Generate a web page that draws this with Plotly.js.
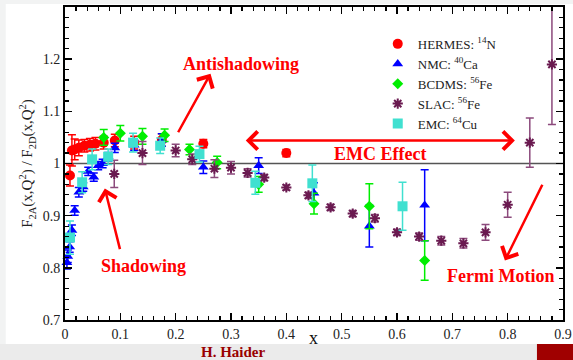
<!DOCTYPE html>
<html>
<head>
<meta charset="utf-8">
<script src="https://cdn.plot.ly/plotly-3.0.1.min.js"></script>
<style>
  html, body { margin: 0; padding: 0; background: #ffffff; }
  #chart { width: 573px; height: 360px; }
</style>
</head>
<body>
<div id="chart"></div>
<script>
// HERMES 14N / D
const hermesX = [0.009, 0.0125, 0.0175, 0.025, 0.035, 0.045, 0.055, 0.07, 0.09, 0.125, 0.175, 0.25, 0.40];
const hermesY = [0.977, 1.025, 1.027, 1.030, 1.034, 1.036, 1.038, 1.040, 1.044, 1.040, 1.045, 1.038, 1.020];
const hermesErr = [0.020, 0.030, 0.020, 0.015, 0.012, 0.012, 0.012, 0.012, 0.012, 0.012, 0.012, 0.008, 0.007];

// NMC 40Ca / D
const nmcX = [0.0035, 0.005, 0.0085, 0.0125, 0.0175, 0.025, 0.033, 0.042, 0.052, 0.06, 0.068, 0.078, 0.09, 0.125, 0.175, 0.25, 0.35, 0.45, 0.55, 0.65];
const nmcY = [0.810, 0.822, 0.840, 0.872, 0.910, 0.945, 0.955, 0.985, 0.974, 0.996, 1.000, 1.013, 1.030, 1.035, 1.045, 0.993, 0.996, 0.943, 0.880, 0.920];
const nmcErr = [0.012, 0.012, 0.010, 0.010, 0.009, 0.009, 0.008, 0.008, 0.008, 0.008, 0.008, 0.008, 0.009, 0.010, 0.012, 0.012, 0.015, 0.020, 0.040, 0.068];

// BCDMS 56Fe / D
const bcdmsX = [0.07, 0.10, 0.14, 0.18, 0.225, 0.275, 0.35, 0.45, 0.55, 0.65];
const bcdmsY = [1.050, 1.058, 1.052, 1.054, 1.027, 1.002, 0.960, 0.923, 0.918, 0.814];
const bcdmsErr = [0.015, 0.015, 0.015, 0.012, 0.010, 0.012, 0.015, 0.020, 0.043, 0.038];

// SLAC 56Fe / D
const slacX = [0.089, 0.14, 0.20, 0.23, 0.27, 0.30, 0.33, 0.36, 0.40, 0.44, 0.48, 0.52, 0.56, 0.60, 0.64, 0.68, 0.72, 0.76, 0.80, 0.84, 0.88];
const slacY = [0.980, 1.020, 1.025, 1.008, 0.990, 0.992, 0.982, 0.973, 0.954, 0.939, 0.916, 0.904, 0.895, 0.868, 0.860, 0.852, 0.847, 0.868, 0.921, 1.040, 1.190];
const slacErr = [0.026, 0.022, 0.012, 0.010, 0.017, 0.012, 0.008, 0.006, 0.005, 0.006, 0.006, 0.006, 0.007, 0.006, 0.007, 0.008, 0.009, 0.015, 0.024, 0.047, 0.115];

// EMC 64Cu / D
const emcX = [0.009, 0.031, 0.049, 0.078, 0.123, 0.172, 0.243, 0.344, 0.447, 0.61];
const emcY = [0.858, 0.964, 1.008, 1.013, 1.040, 1.034, 1.018, 0.963, 0.962, 0.918];
const emcErr = [0.032, 0.020, 0.020, 0.015, 0.018, 0.015, 0.015, 0.022, 0.035, 0.046];

// Axis ticks
const xTickVals = [0, 0.1, 0.2, 0.3, 0.4, 0.5, 0.6, 0.7, 0.8, 0.9];
const xTickText = ['0', '0.1', '0.2', '0.3', '0.4', '0.5', '0.6', '0.7', '0.8', '0.9'];
const yTickVals = [0.7, 0.8, 0.9, 1.0, 1.1, 1.2];
const yTickText = ['0.7', '0.8', '0.9', '1', '1.1', '1.2'];

const serif = 'Liberation Serif, Times New Roman, serif';

function series(name, xs, ys, errs, color, errColor, marker, clip) {
  return {
    type: 'scatter', mode: 'markers', name: name,
    x: xs, y: ys,
    cliponaxis: clip,
    error_y: { type: 'data', array: errs, visible: true, color: errColor, thickness: 1.5, width: 4 },
    marker: Object.assign({ color: color }, marker)
  };
}

const traces = [
  series('HERMES: <sup>14</sup>N', hermesX, hermesY, hermesErr, '#ff0000', '#ff0000',
         { symbol: 'circle', size: 10 }, false),
  series('NMC: <sup>40</sup>Ca', nmcX, nmcY, nmcErr, '#0000ff', '#0000ff',
         { symbol: 'triangle-up', size: 9.5 }, false),
  series('BCDMS: <sup>56</sup>Fe', bcdmsX, bcdmsY, bcdmsErr, '#00ee00', '#00ee00',
         { symbol: 'diamond', size: 8.5 }, false),
  series('SLAC: <sup>56</sup>Fe', slacX, slacY, slacErr, '#6a1a50', '#8c4a7c',
         { symbol: 'asterisk-open', size: 8.5, line: { color: '#6a1a50', width: 2 } }, true),
  series('EMC: <sup>64</sup>Cu', emcX, emcY, emcErr, '#40e0d0', '#40e0d0',
         { symbol: 'square', size: 10 }, false)
];

const red = '#ff0000';
function label(text, x, y) {
  return { text: text, x: x, y: y, xref: 'x', yref: 'y', showarrow: false,
           font: { family: serif, size: 18, color: red, weight: 'bold' } };
}
function arrow(x0, y0, x1, y1, both) {
  return { text: '', x: x1, y: y1, ax: x0, ay: y0, xref: 'x', yref: 'y', axref: 'x', ayref: 'y',
           showarrow: true, arrowcolor: red, arrowwidth: 2.5, arrowhead: 4, arrowsize: 1.4,
           startarrowhead: 4, startarrowsize: 1.4, arrowside: both ? 'end+start' : 'end',
           standoff: 0, startstandoff: 0 };
}

const annotations = [
  label('Antishadowing', 0.318, 1.19),
  arrow(0.203, 1.057, 0.263, 1.172, false),
  label('Shadowing', 0.141, 0.803),
  arrow(0.10, 0.833, 0.072, 0.952, false),
  label('EMC Effect', 0.570, 1.018),
  arrow(0.324, 1.044, 0.813, 1.044, true),
  label('Fermi Motion', 0.787, 0.785),
  arrow(0.864, 0.962, 0.795, 0.814, false),
  // x axis title
  { text: 'x', xref: 'paper', yref: 'paper', x: 0.499, y: -0.058, yanchor: 'middle', showarrow: false,
    font: { family: serif, size: 18, color: '#111111' } },
  { text: 'H. Haider', xref: 'paper', yref: 'paper', x: 0.339, y: -0.102, yanchor: 'middle', showarrow: false,
    font: { family: serif, size: 15, color: '#990000', weight: 'bold' } }
];

const shapes = [
  // unit line
  { type: 'line', xref: 'paper', yref: 'y', x0: 0, x1: 1, y0: 1, y1: 1,
    line: { color: '#555555', width: 1.5 }, layer: 'below' },
  // slide frame: left margin, top strip, footer band, footer block
  { type: 'rect', xref: 'paper', yref: 'paper', x0: -0.135, x1: -0.119, y0: -0.13, y1: 1.03,
    fillcolor: '#f2f3f3', line: { width: 0 }, layer: 'below' },
  { type: 'rect', xref: 'paper', yref: 'paper', x0: -0.135, x1: 1.03, y0: 1.0096, y1: 1.03,
    fillcolor: '#f2f3f3', line: { width: 0 }, layer: 'below' },
  { type: 'rect', xref: 'paper', yref: 'paper', x0: -0.135, x1: 1.03, y0: -0.13, y1: -0.0767,
    fillcolor: '#ebebeb', line: { width: 0 }, layer: 'below' },
  { type: 'rect', xref: 'paper', yref: 'paper', x0: 0.9477, x1: 1.03, y0: -0.13, y1: -0.0767,
    fillcolor: '#a00000', line: { width: 0 }, layer: 'below' }
];

const axisCommon = {
  showgrid: false, zeroline: false, showline: true, linecolor: '#000000', linewidth: 2,
  mirror: 'allticks', ticks: 'inside', ticklen: 7, tickwidth: 1.5, tickcolor: '#000000',
  tickmode: 'array', tickfont: { family: serif, size: 14, color: '#222222' }
};

const layout = {
  width: 573, height: 360,
  margin: { l: 65, r: 10, t: 7, b: 40, pad: 0 },
  paper_bgcolor: '#ffffff', plot_bgcolor: '#ffffff',
  showlegend: true,
  legend: { x: 0.628, y: 0.93, xanchor: 'left', yanchor: 'top', bgcolor: 'rgba(0,0,0,0)',
            font: { family: serif, size: 13, color: '#222222' }, tracegroupgap: 0 },
  xaxis: Object.assign({}, axisCommon, {
    range: [0, 0.9], tickvals: xTickVals, ticktext: xTickText,
    minor: { tickmode: 'linear', tick0: 0, dtick: 0.02, ticks: 'inside', ticklen: 4, tickwidth: 1.2, tickcolor: '#000000' }
  }),
  yaxis: Object.assign({}, axisCommon, {
    range: [0.7, 1.3], tickvals: yTickVals, ticktext: yTickText,
    minor: { tickmode: 'linear', tick0: 0.7, dtick: 0.02, ticks: 'inside', ticklen: 4, tickwidth: 1.2, tickcolor: '#000000' },
    title: { text: 'F<sub>2A</sub>(x,Q<sup>2</sup>) / F<sub>2D</sub>(x,Q<sup>2</sup>)',
             font: { family: serif, size: 15, color: '#222222' }, standoff: 6 }
  }),
  annotations: annotations,
  shapes: shapes
};

Plotly.newPlot('chart', traces, layout, { displayModeBar: false, staticPlot: true });
</script>
</body>
</html>
